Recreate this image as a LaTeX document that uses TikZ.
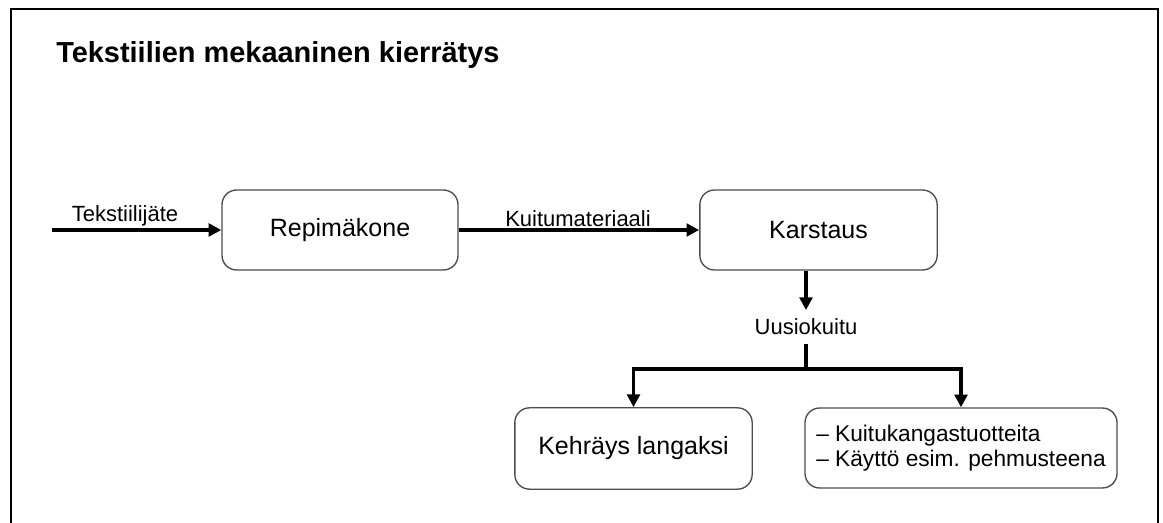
\documentclass[tikz,border=0pt]{standalone}
\usepackage{fontspec}
\setmainfont{Liberation Sans}
\usetikzlibrary{arrows.meta}
\tikzset{
  box/.style={draw=black!70, line width=1pt, rounded corners=11pt, fill=white,
    minimum width=177pt, minimum height=60pt, inner sep=0pt, align=center,
    font=\fontsize{18.75pt}{22pt}\selectfont},
  lbl/.style={font=\fontsize{16.5pt}{19pt}\selectfont, inner sep=0pt, anchor=base},
  flow/.style={line width=2.6pt, -{Triangle[length=9.5pt,width=9.5pt]}},
  plain/.style={line width=2.6pt},
}
\begin{document}
\begin{tikzpicture}[x=0.75pt,y=-0.75pt]
\useasboundingbox (0,0) rectangle (1163,523);
\fill[white] (0,0) rectangle (1163,523);
\draw[line width=1.6pt] (11,530) -- (11,9) -- (1158,9) -- (1158,530);
\node[anchor=base west, inner sep=0pt, font=\bfseries\fontsize{21.7pt}{24pt}\selectfont] (title) at (56,63) {Tekstiilien mekaaninen kierrätys};

\node[box] (rep) at (340,230) {Repimäkone};
\node[box, minimum width=178pt] (kar) at (818.5,230) {Karstaus};
\node[box, minimum width=178pt, minimum height=61pt] (keh) at (633.5,448.5) {Kehräys langaksi};
\node[box, minimum width=234pt, font=\fontsize{17pt}{18.75pt}\selectfont, align=left] (kui) at (961,448) {– Kuitukangastuotteita\\– Käyttö esim. pehmusteena};

\coordinate (src) at (52,230);
\draw[flow] (src) -- (rep.west);
\node[lbl] (l1) at (125,222) {Tekstiilijäte};

\draw[flow] (rep.east) -- (kar.west);
\node[lbl] (l2) at (578,227) {Kuitumateriaali};

\node[lbl, inner ysep=6.5pt] (uus) at (806,335) {Uusiokuitu};
\draw[flow] (kar.south -| uus.north) -- (uus.north);
\coordinate (split) at (806,369);
\draw[plain] (uus.south) -- (split);
\draw[flow] (split) -| (keh.north);
\draw[flow] (split) -| (kui.north);
\end{tikzpicture}
\end{document}
